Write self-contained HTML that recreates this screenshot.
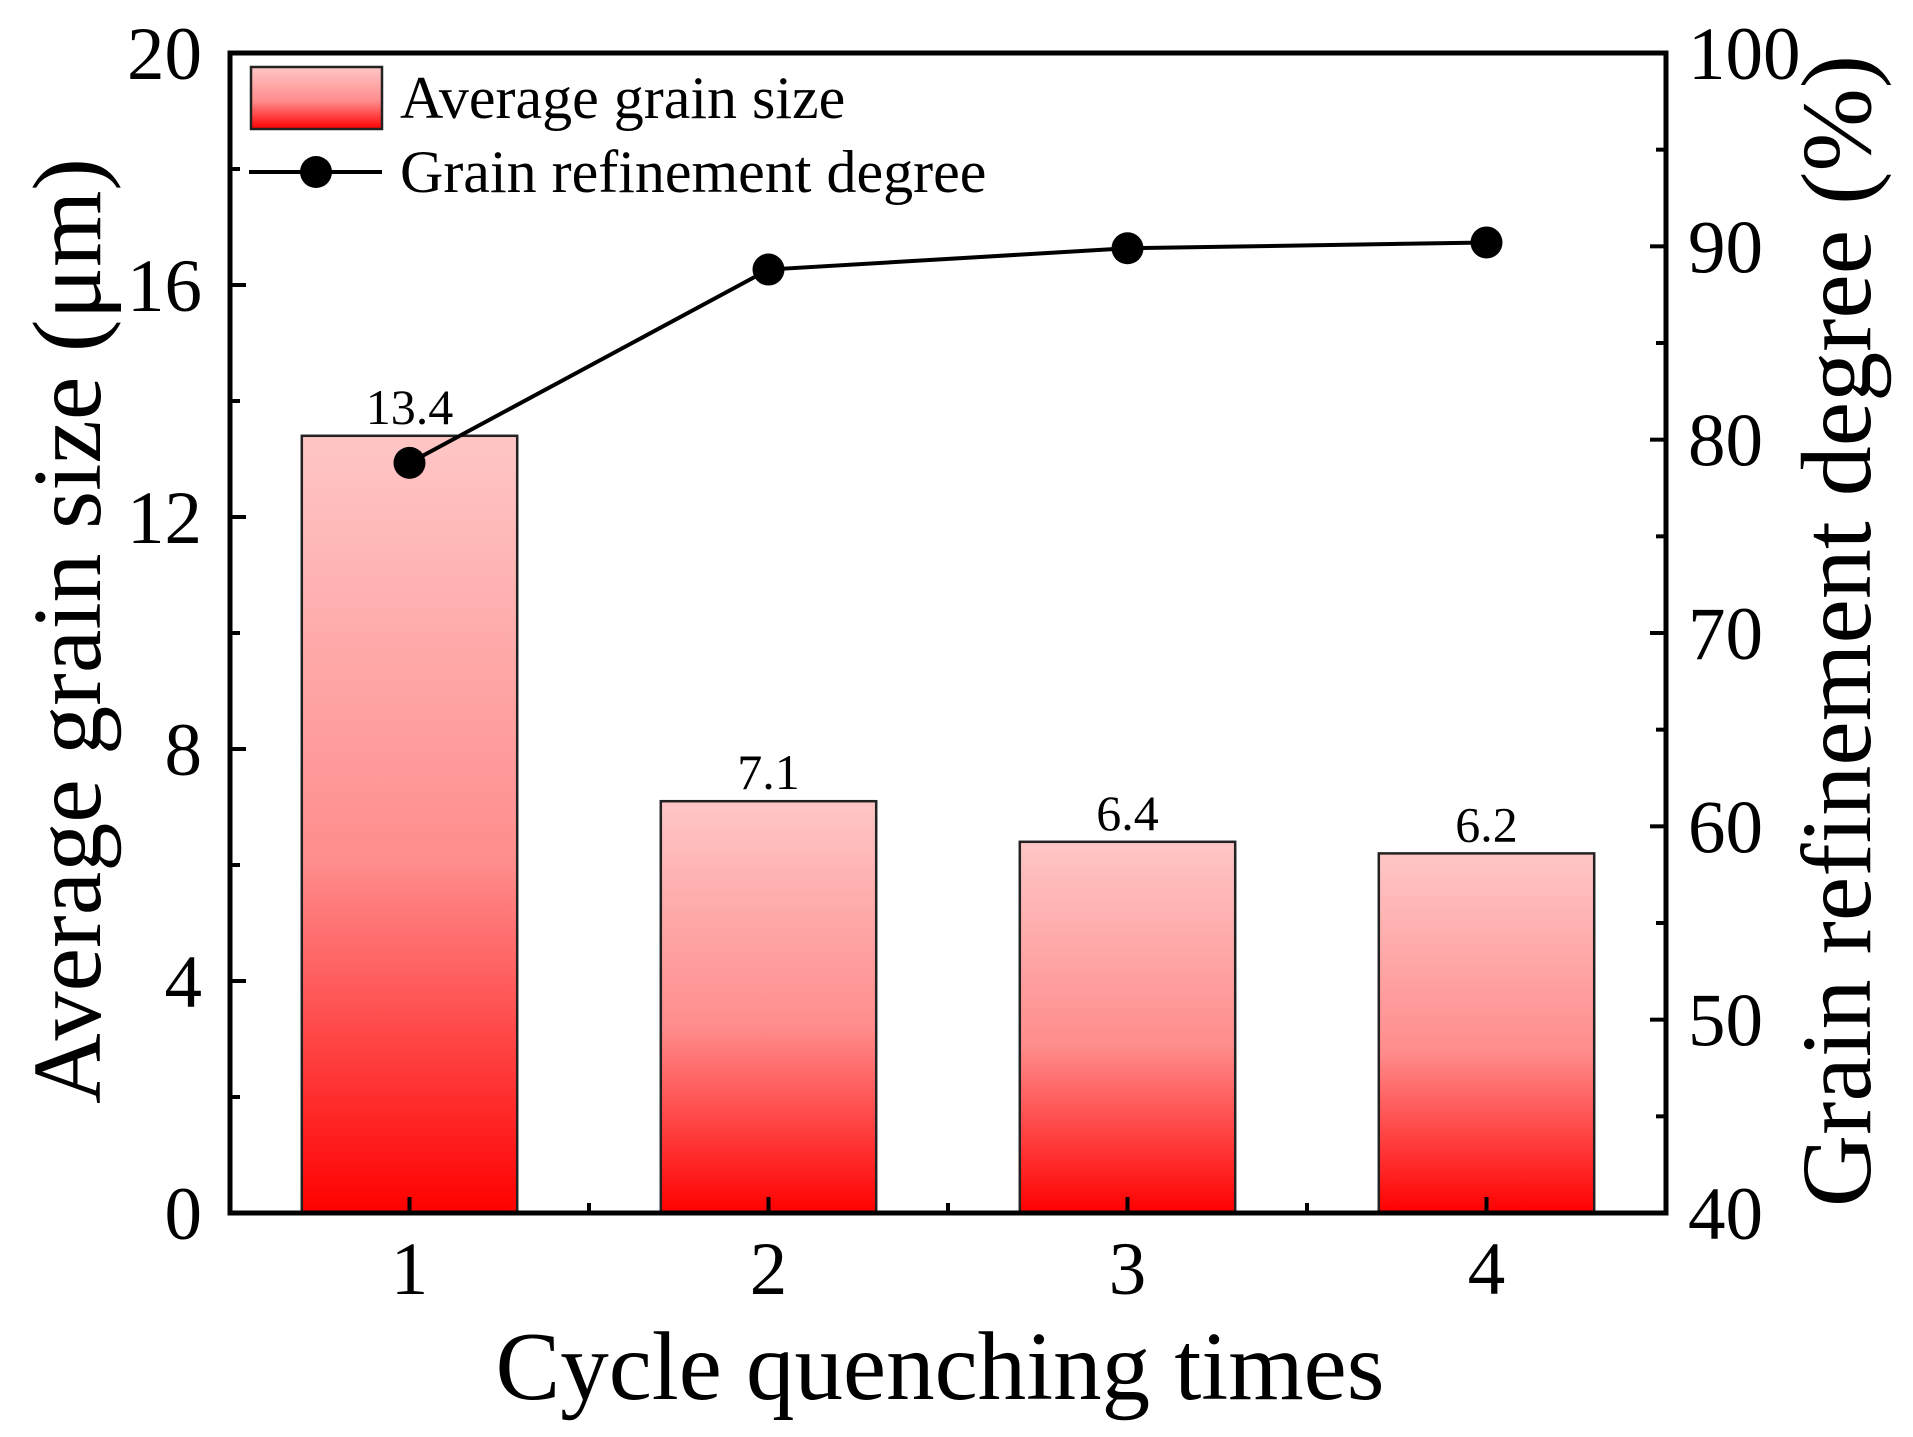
<!DOCTYPE html>
<html><head><meta charset="utf-8"><style>
html,body{margin:0;padding:0;background:#fff;}
svg{display:block;font-family:"Liberation Serif",serif;}
</style></head><body>
<svg id="chart" width="1913" height="1437" viewBox="0 0 1913 1437">
<defs><linearGradient id="barGrad" x1="0" y1="0" x2="0" y2="1">
<stop offset="0" stop-color="#ffc6c6"/><stop offset="0.55" stop-color="#ff8c8c"/><stop offset="1" stop-color="#ff0000"/></linearGradient></defs>
<g id="plot"></g>
</svg>
<script>
const categories=[1,2,3,4];
const grainSize=[13.4,7.1,6.4,6.2];
const refinement=[78.8,88.8,89.9,90.2];
const leftTicks=[0,4,8,12,16,20];
const rightTicks=[40,50,60,70,80,90,100];
const valueLabels=["13.4","7.1","6.4","6.2"];

const L=230,R=1666,T=53,B=1213;
const NS="http://www.w3.org/2000/svg";
const g=document.getElementById('plot');
function xs(v){return L+(v-0.5)/4*(R-L);}
function yl(v){return B-v/20*(B-T);}
function yr(v){return B-(v-40)/60*(B-T);}
function mk(tag,attrs,parent){const e=document.createElementNS(NS,tag);for(const k in attrs)e.setAttribute(k,attrs[k]);(parent||g).appendChild(e);return e;}
const bw=0.6*(R-L)/4;
categories.forEach((c,i)=>{
  const r=mk('rect',{x:xs(c)-bw/2,y:yl(grainSize[i]),width:bw,height:B-yl(grainSize[i]),fill:'url(#barGrad)',stroke:'#222','stroke-width':2.5});
  
  
  const t=mk('text',{x:xs(c),y:yl(grainSize[i])-12,'text-anchor':'middle','font-size':50});
  t.textContent=valueLabels[i];
  
  
});
const fr=mk('rect',{x:L,y:T,width:R-L,height:B-T,fill:'none',stroke:'#000','stroke-width':5});


leftTicks.forEach(v=>{
  mk('line',{x1:L,x2:L+16,y1:yl(v),y2:yl(v),stroke:'#000','stroke-width':4});
  if(v<20) mk('line',{x1:L,x2:L+10,y1:yl(v+2),y2:yl(v+2),stroke:'#000','stroke-width':4});
  const t=mk('text',{x:202,y:yl(v)+26,'text-anchor':'end','font-size':75});
  t.textContent=v;
  
  
});
rightTicks.forEach(v=>{
  mk('line',{x1:R,x2:R-16,y1:yr(v),y2:yr(v),stroke:'#000','stroke-width':4});
  if(v<100) mk('line',{x1:R,x2:R-10,y1:yr(v+5),y2:yr(v+5),stroke:'#000','stroke-width':4});
  const t=mk('text',{x:1688,y:yr(v)+26,'text-anchor':'start','font-size':75});
  t.textContent=v;
  
  
});
categories.forEach(c=>{
  mk('line',{x1:xs(c),x2:xs(c),y1:B,y2:B-16,stroke:'#000','stroke-width':4});
  if(c<4) mk('line',{x1:xs(c+0.5),x2:xs(c+0.5),y1:B,y2:B-10,stroke:'#000','stroke-width':4});
  const t=mk('text',{x:xs(c),y:1294,'text-anchor':'middle','font-size':75});
  t.textContent=c;
  
  
});
const pl=mk('polyline',{points:categories.map((c,i)=>xs(c)+','+yr(refinement[i])).join(' '),fill:'none',stroke:'#000','stroke-width':4});


categories.forEach((c,i)=>{
  const p=mk('circle',{cx:xs(c),cy:yr(refinement[i]),r:16,fill:'#000'});
  
  
});
const xt=mk('text',{x:940,y:1399,'text-anchor':'middle','font-size':97});
xt.textContent='Cycle quenching times';


const ylt=mk('text',{x:0,y:0,'text-anchor':'middle','font-size':98,transform:'translate(100,631) rotate(-90)'});
ylt.textContent='Average grain size (μm)';


const yrt=mk('text',{x:0,y:0,'text-anchor':'middle','font-size':100,transform:'translate(1870,631) rotate(-90)'});
yrt.textContent='Grain refinement degree (%)';


const lg=mk('g',{});


mk('rect',{x:251,y:67,width:131,height:62,fill:'url(#barGrad)',stroke:'#222','stroke-width':2.5},lg);
const l1=mk('text',{x:400,y:118,'font-size':60},lg);
l1.textContent='Average grain size';


mk('line',{x1:249,x2:382,y1:172,y2:172,stroke:'#000','stroke-width':4},lg);
mk('circle',{cx:316,cy:172,r:16,fill:'#000'},lg);
const l2=mk('text',{x:400,y:192,'font-size':60},lg);
l2.textContent='Grain refinement degree';


</script>
</body></html>
